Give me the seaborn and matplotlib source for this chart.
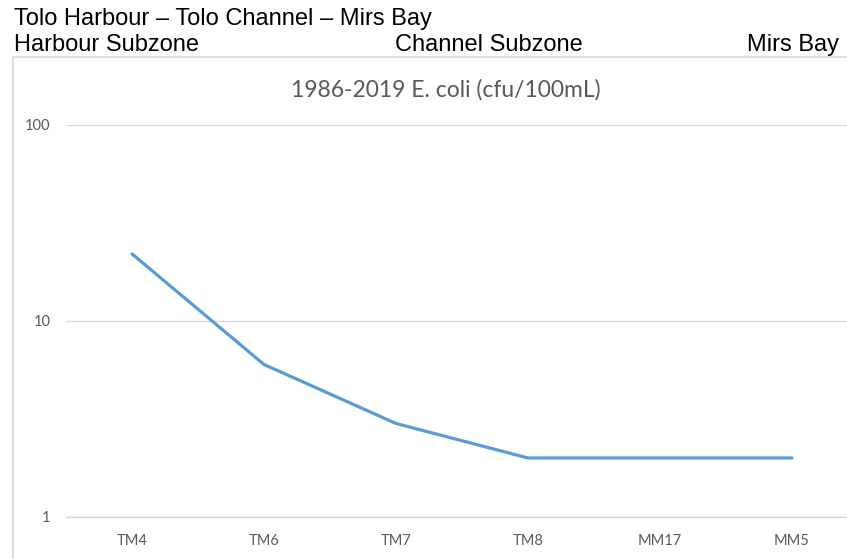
import numpy as np
import pandas as pd
import matplotlib
matplotlib.use("Agg")
import matplotlib.pyplot as plt
import seaborn as sns
from matplotlib.patches import Rectangle

# data
stations = ['TM4', 'TM6', 'TM7', 'TM8', 'MM17', 'MM5']
ecoli = [22, 6, 3, 2, 2, 2]
y_ticks = [1, 10, 100]

df = pd.DataFrame({'station': stations, 'ecoli': ecoli})

sns.set_style("white")
plt.rcParams['font.family'] = ['Lato', 'DejaVu Sans']

W, H = 847, 559
fig = plt.figure(figsize=(W / 100, H / 100), dpi=100)

# chart box (cropped on right and bottom, like the reference)
fig.patches.append(Rectangle((13 / W, -0.2), 2, 1 - 57 / H + 0.2, transform=fig.transFigure,
                             facecolor='none', edgecolor='#d9d9d9', linewidth=1.2))

ax = fig.add_axes([66 / W, 1 - 517 / H, 792 / W, 392 / H])
ax.set_facecolor('none')

sns.lineplot(data=df, x='station', y='ecoli', ax=ax, sort=False,
             color='#5b9bd5', linewidth=2.3, solid_capstyle='round')

ax.set_yscale('log')
ax.set_ylim(1, 100)
ax.set_xlim(-0.5, len(stations) - 0.5)
ax.set_yticks(y_ticks)
ax.set_yticklabels([str(t) for t in y_ticks])
ax.yaxis.set_minor_locator(matplotlib.ticker.NullLocator())
ax.grid(axis='y', color='#d9d9d9', linewidth=1)
ax.set_axisbelow(True)
for s in ['top', 'right', 'left']:
    ax.spines[s].set_visible(False)
ax.spines['bottom'].set_color('#d9d9d9')
ax.spines['bottom'].set_linewidth(1)
ax.tick_params(axis='both', length=0, labelsize=10.5, labelcolor='#595959')
ax.tick_params(axis='x', pad=12)
ax.tick_params(axis='y', pad=11)
ax.set_xlabel('')
ax.set_ylabel('')

fig.text(446 / W, 1 - 97 / H, '1986-2019 E. coli (cfu/100mL)', ha='center', va='baseline',
         fontsize=16.5, color='#595959')

# header text above the chart
hdr = dict(fontsize=17, color='black', family=['Liberation Sans', 'DejaVu Sans'],
           va='baseline')
fig.text(14 / W, 1 - 25 / H, 'Tolo Harbour – Tolo Channel – Mirs Bay', ha='left', **hdr)
fig.text(14 / W, 1 - 51 / H, 'Harbour Subzone', ha='left', **hdr)
fig.text(395 / W, 1 - 51 / H, 'Channel Subzone', ha='left', **hdr)
fig.text(839 / W, 1 - 51 / H, 'Mirs Bay', ha='right', **hdr)

fig.savefig('out.png', dpi=100)
